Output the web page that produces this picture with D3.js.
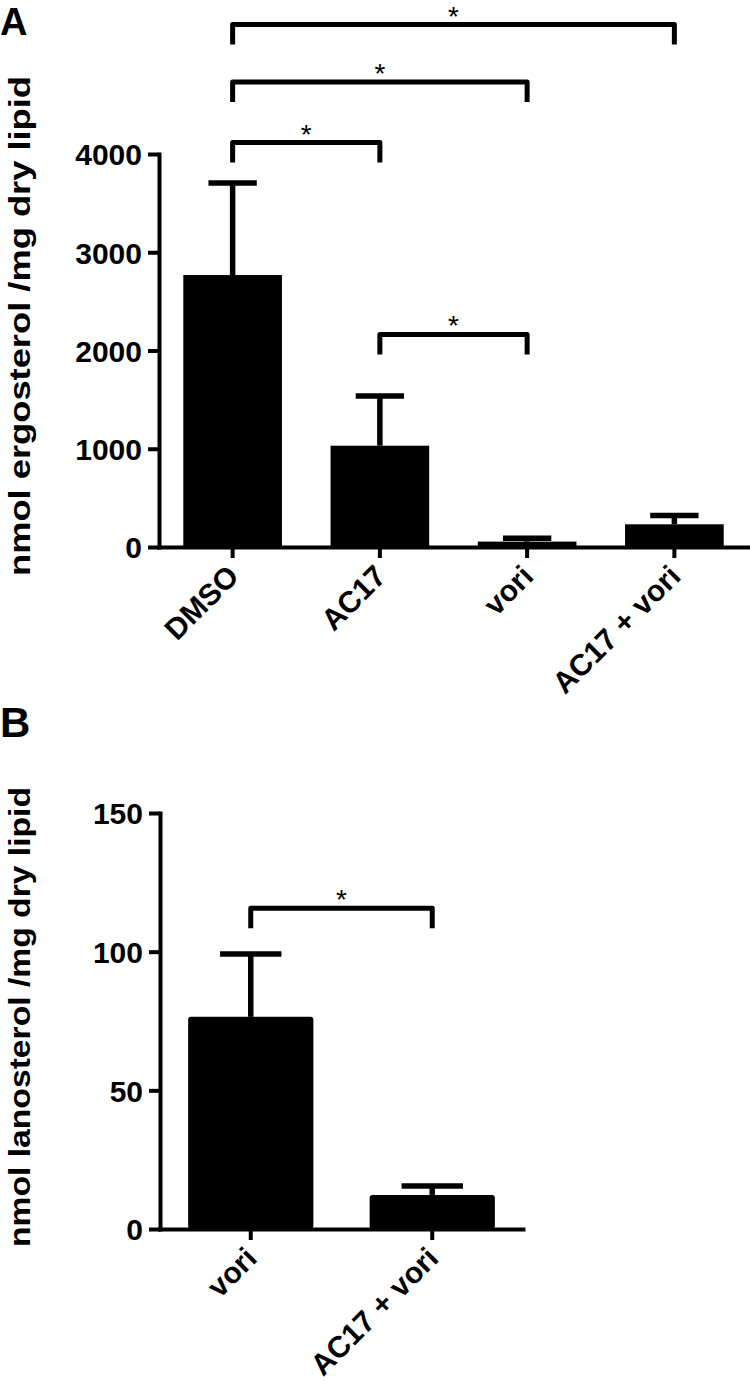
<!DOCTYPE html>
<html>
<head>
<meta charset="utf-8">
<script src="https://cdn.jsdelivr.net/npm/d3@7"></script>
<style>
  body { margin: 0; background: #fff; }
  svg { display: block; font-family: "Liberation Sans", Arial, sans-serif; }
</style>
</head>
<body>
<svg width="750" height="1388"></svg>
<script>
// panel A: ergosterol
const groupsA = ["DMSO", "AC17", "vori", "AC17 + vori"];
const ergosterol = [2768, 1031, 55, 231];
const ergosterolErr = [937, 506, 35, 89];
const ticksA = [0, 1000, 2000, 3000, 4000];
// [from, to, level in data units]
const bracketsA = [[0, 3, 5318], [0, 2, 4733], [0, 1, 4117], [1, 2, 2163]];

// panel B: lanosterol
const groupsB = ["vori", "AC17 + vori"];
const lanosterol = [76.5, 12.3];
const lanosterolErr = [22.7, 3.2];
const ticksB = [0, 50, 100, 150];
const bracketsB = [[0, 1, 115.7]];

const LEG = 20;
const svg = d3.select("svg");

function panel(opts) {
  const g = svg.append("g");
  const x = d3.scaleBand().domain(opts.groups).range(opts.xRange)
    .paddingInner(opts.padIn).paddingOuter(opts.padIn / 2);
  const y = d3.scaleLinear().domain([0, opts.ticks[opts.ticks.length - 1]]).range(opts.yRange);
  const base = opts.yRange[0];

  // bars
  g.selectAll(".bar")
    .data(opts.values)
    .enter().append("rect")
    .attr("class", "bar")
    .attr("x", (d, i) => x(opts.groups[i]))
    .attr("y", d => y(d))
    .attr("width", x.bandwidth())
    .attr("height", d => base - y(d))
    .attr("rx", opts.rx)
    .attr("fill", "#000");

  // error bars (upper only)
  const capW = x.bandwidth() * 0.49;
  const eb = g.selectAll(".err")
    .data(opts.values)
    .enter().append("g")
    .attr("class", "err")
    .attr("transform", (d, i) => "translate(" + (x(opts.groups[i]) + x.bandwidth() / 2) + ",0)");
  eb.append("line")
    .attr("x1", 0).attr("x2", 0)
    .attr("y1", d => y(d))
    .attr("y2", (d, i) => y(d + opts.errors[i]))
    .attr("stroke", "#000").attr("stroke-width", 5.5);
  eb.append("line")
    .attr("x1", -capW / 2).attr("x2", capW / 2)
    .attr("y1", (d, i) => y(d + opts.errors[i]))
    .attr("y2", (d, i) => y(d + opts.errors[i]))
    .attr("stroke", "#000").attr("stroke-width", 5.5);

  // axes
  const yAxis = g.append("g")
    .attr("transform", "translate(" + opts.xRange[0] + ",0)")
    .call(d3.axisLeft(y).tickValues(opts.ticks).tickFormat(d3.format("d"))
      .tickSize(11).tickSizeOuter(0).tickPadding(6));
  const xAxis = g.append("g")
    .attr("transform", "translate(0," + base + ")")
    .call(d3.axisBottom(x).tickSize(11).tickSizeOuter(0).tickPadding(0));

  [yAxis, xAxis].forEach(a => {
    a.select(".domain").attr("stroke-width", 4).attr("stroke-linecap", "square");
    a.selectAll(".tick line").attr("stroke-width", 4);
    a.selectAll("text")
      .attr("fill", "#000")
      .style("font-size", "30px")
      .style("font-weight", "bold")
      .style("font-family", "'Liberation Sans', Arial, sans-serif");
  });
  yAxis.selectAll("text").attr("dy", "0.36em");
  xAxis.selectAll("text")
    .attr("y", 0).attr("dy", 0)
    .attr("text-anchor", "end")
    .attr("transform", "translate(8,31) rotate(-45)");

  // axis title
  g.append("text")
    .attr("transform", "translate(30," + opts.labelY + ") rotate(-90)")
    .attr("text-anchor", "middle")
    .attr("textLength", opts.labelLen)
    .attr("lengthAdjust", "spacingAndGlyphs")
    .style("font-size", "30px")
    .style("font-weight", "bold")
    .text(opts.label);

  // significance brackets
  const bx = i => x(opts.groups[i]) + x.bandwidth() / 2;
  const br = g.selectAll(".bracket")
    .data(opts.brackets)
    .enter().append("g")
    .attr("class", "bracket");
  br.append("path")
    .attr("d", d => {
      const ly = y(d[2]);
      return "M" + bx(d[0]) + "," + (ly + LEG) + "V" + ly + "H" + bx(d[1]) + "V" + (ly + LEG);
    })
    .attr("fill", "none").attr("stroke", "#000").attr("stroke-width", 5)
    .attr("stroke-linejoin", "round");
  br.append("text")
    .attr("x", d => (bx(d[0]) + bx(d[1])) / 2)
    .attr("y", d => y(d[2]) + 1)
    .attr("text-anchor", "middle")
    .style("font-size", "28px")
    .text("*");

  // panel letter
  g.append("text")
    .attr("x", 0).attr("y", opts.letterY)
    .style("font-size", opts.letterSize + "px").style("font-weight", "bold")
    .text(opts.letter);
}

panel({
  groups: groupsA, values: ergosterol, errors: ergosterolErr, ticks: ticksA,
  brackets: bracketsA, xRange: [159, 748], yRange: [547, 154], padIn: 0.33, rx: 0,
  label: "nmol ergosterol /mg dry lipid", labelY: 326, labelLen: 500,
  letter: "A", letterY: 35, letterSize: 38
});

panel({
  groups: groupsB, values: lanosterol, errors: lanosterolErr, ticks: ticksB,
  brackets: bracketsB, xRange: [160, 523], yRange: [1229, 813], padIn: 0.31, rx: 3,
  label: "nmol lanosterol /mg dry lipid", labelY: 1017, labelLen: 460,
  letter: "B", letterY: 737, letterSize: 42
});
</script>
</body>
</html>
